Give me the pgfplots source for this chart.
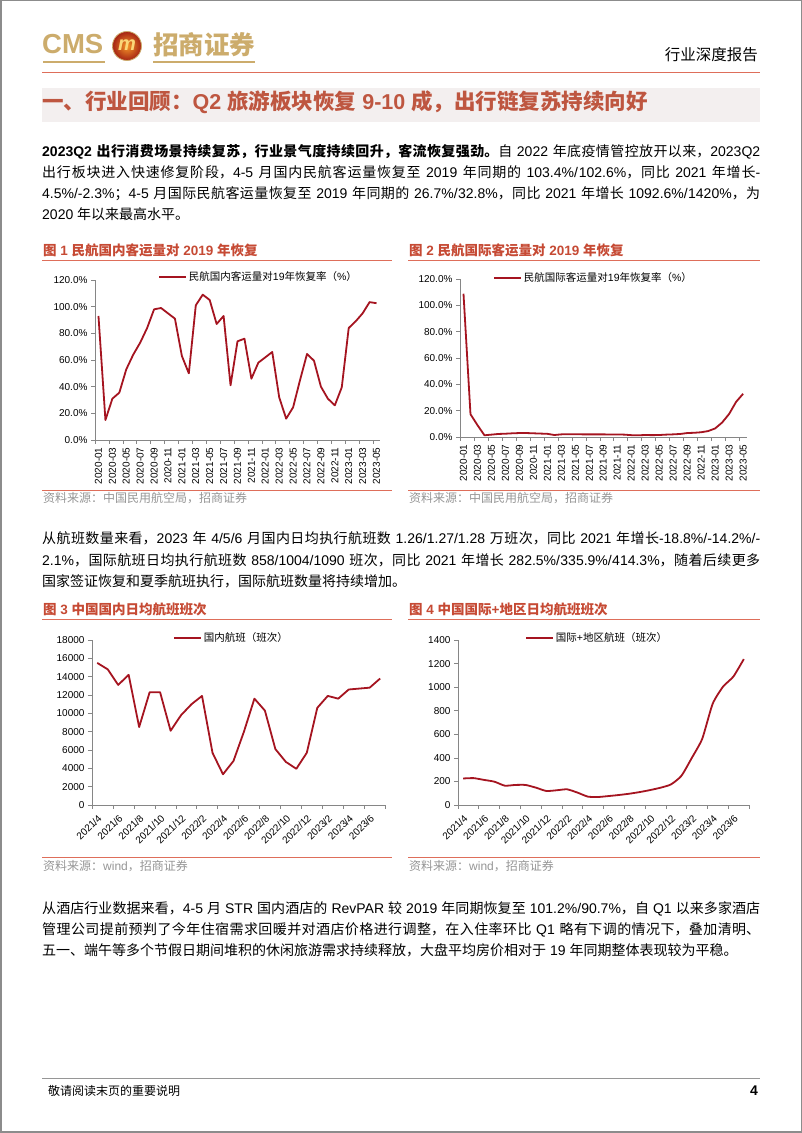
\documentclass[border=0pt]{standalone}
\usepackage{pgfplots}
\pgfplotsset{compat=1.18}
\usepackage{fontspec}
\setmainfont{Liberation Sans}
\newfontfamily\cjkfamily{Noto Sans CJK SC}
\XeTeXinterchartokenstate=1
\newXeTeXintercharclass\CJKcls
\makeatletter
\def\setcjkrange#1#2{\count@=#1\relax\loop\XeTeXcharclass\count@=\CJKcls\relax\ifnum\count@<#2\relax\advance\count@ by 1\relax\repeat}
\makeatother
\setcjkrange{"4E00}{"9FFF}
\setcjkrange{"3000}{"303F}
\setcjkrange{"FF00}{"FFEF}
\XeTeXinterchartoks 0 \CJKcls = {\cjkfamily}
\XeTeXinterchartoks 4095 \CJKcls = {\cjkfamily}
\XeTeXinterchartoks \CJKcls 0 = {\rmfamily}
\XeTeXinterchartoks \CJKcls 4095 = {\rmfamily}
\XeTeXlinebreaklocale "zh"
\XeTeXlinebreakskip=0pt plus 1pt

\definecolor{cmsred}{RGB}{198,74,52}
\definecolor{titlered}{RGB}{190,86,64}
\definecolor{linered}{RGB}{165,20,32}
\definecolor{gold}{RGB}{204,172,108}
\definecolor{axisgray}{RGB}{134,134,134}
\definecolor{bandfill}{RGB}{243,239,239}
\definecolor{rulered}{RGB}{222,110,90}
\definecolor{srcgray}{RGB}{150,150,150}
\definecolor{framegray}{RGB}{140,140,140}

\pgfplotsset{
 cmsaxis/.style={
  scale only axis, anchor=south west,
  axis lines=left, axis line style={-, draw=axisgray, line width=0.7pt},
  tick align=outside, major tick length=4pt, minor tick length=4pt,
  tick style={draw=axisgray, line width=0.6pt},
  major x tick style={draw=none},
  tick label style={font=\fontsize{10}{12}\selectfont, text=black},
  /pgf/number format/assume math mode=true,
  legend image code/.code={\draw[##1] (0pt,0pt) -- (27pt,0pt);},
  legend style={draw=none, fill=none, inner sep=0pt, font=\fontsize{10.5}{12}\selectfont, anchor=west},
  legend cell align=left,
  clip=false,
 },
 cmsline/.style={linered, line width=1.8pt, no marks, line join=round},
}

\begin{document}
\begin{tikzpicture}[x=1pt,y=1pt]
\fill[white] (0,0) rectangle (802,1133);
\useasboundingbox (0,0) rectangle (802,1133);
\begin{scope}[shift={(0,1133)}, y=-1pt]
 % page frame
 \draw[framegray, line width=1.5pt] (0.75,0.75) rectangle (801.25,1132.25);
 % header logo
 \node[anchor=base west, inner sep=0pt, text=gold, font=\fontsize{27.5}{28}\selectfont\bfseries] at (42,54) {CMS};
 \draw[gold, line width=1.2pt] (43,62) -- (105,62);
 \shade[inner color={rgb,255:red,245;green,150;blue,40}, outer color={rgb,255:red,165;green,35;blue,20}] (127,46) circle (14.5);
 \draw[gold, line width=0.8pt] (127,46) circle (14.5);
 \node[text={rgb,255:red,250;green,215;blue,120}, font=\fontsize{20}{20}\selectfont\bfseries\itshape, inner sep=0pt] at (127,45) {m};
 \node[anchor=base west, inner sep=0pt, text=gold, font=\fontsize{25.5}{28}\selectfont\bfseries] at (153,54.5) {招商证券};
 \draw[gold, line width=1.2pt] (153,62) -- (255,62);
 \node[anchor=base east, inner sep=0pt, font=\fontsize{15.5}{18}\selectfont] at (758,60.5) {行业深度报告};
 \draw[rulered, line width=0.9pt] (42,72) -- (760,72);
 % section title
 \fill[bandfill] (42,88) rectangle (760,122);
 \node[anchor=base west, inner sep=0pt, text=titlered, font=\fontsize{21.5}{24}\selectfont\bfseries] at (42,109.5) {一、行业回顾：Q2 旅游板块恢复 9-10 成，出行链复苏持续向好};
 % paragraph 1
 \node[anchor=north west, inner sep=0pt, text width=718pt, align=justify, font=\fontsize{14}{21.1}\selectfont] at (42,141.5) {\strut\textbf{2023Q2 出行消费场景持续复苏，行业景气度持续回升，客流恢复强劲。}自 2022 年底疫情管控放开以来，2023Q2\linebreak%
出行板块进入快速修复阶段，4-5 月国内民航客运量恢复至 2019 年同期的 103.4\%/102.6\%，同比 2021 年增长-\linebreak%
4.5\%/-2.3\%；4-5 月国际民航客运量恢复至 2019 年同期的 26.7\%/32.8\%，同比 2021 年增长 1092.6\%/1420\%，为\linebreak%
2020 年以来最高水平。};
 % captions fig 1/2
 \node[anchor=base west, inner sep=0pt, text=cmsred, font=\fontsize{13.5}{16}\selectfont\bfseries] at (43,255.5) {图 1 民航国内客运量对 2019 年恢复};
 \node[anchor=base west, inner sep=0pt, text=cmsred, font=\fontsize{13.5}{16}\selectfont\bfseries] at (409,255.5) {图 2 民航国际客运量对 2019 年恢复};
 \draw[rulered, line width=0.9pt] (42,260) -- (392,260) (408,260) -- (760,260);
 \draw[rulered, line width=0.9pt] (42,490) -- (392,490) (408,490) -- (760,490);
 \node[anchor=base west, inner sep=0pt, text=srcgray, font=\fontsize{12}{14}\selectfont] at (43,503) {资料来源：中国民用航空局，招商证券};
 \node[anchor=base west, inner sep=0pt, text=srcgray, font=\fontsize{12}{14}\selectfont] at (409,503) {资料来源：中国民用航空局，招商证券};
 % paragraph 2
 \node[anchor=north west, inner sep=0pt, text width=718pt, align=justify, font=\fontsize{14}{21.3}\selectfont] at (42,528.8) {\strut 从航班数量来看，2023 年 4/5/6 月国内日均执行航班数 1.26/1.27/1.28 万班次，同比 2021 年增长-18.8\%/-14.2\%/-\linebreak%
2.1\%，国际航班日均执行航班数 858/1004/1090 班次，同比 2021 年增长 282.5\%/335.9\%/414.3\%，随着后续更多\linebreak%
国家签证恢复和夏季航班执行，国际航班数量将持续增加。};
 % captions fig 3/4
 \node[anchor=base west, inner sep=0pt, text=cmsred, font=\fontsize{13.5}{16}\selectfont\bfseries] at (43,614.5) {图 3 中国国内日均航班班次};
 \node[anchor=base west, inner sep=0pt, text=cmsred, font=\fontsize{13.5}{16}\selectfont\bfseries] at (409,614.5) {图 4 中国国际+地区日均航班班次};
 \draw[rulered, line width=0.9pt] (42,619) -- (392,619) (408,619) -- (760,619);
 \draw[rulered, line width=0.9pt] (42,857) -- (392,857) (408,857) -- (760,857);
 \node[anchor=base west, inner sep=0pt, text=srcgray, font=\fontsize{12}{14}\selectfont] at (43,871) {资料来源：wind，招商证券};
 \node[anchor=base west, inner sep=0pt, text=srcgray, font=\fontsize{12}{14}\selectfont] at (409,871) {资料来源：wind，招商证券};
 % paragraph 3
 \node[anchor=north west, inner sep=0pt, text width=718pt, align=justify, font=\fontsize{14}{21.1}\selectfont] at (42,898.8) {\strut 从酒店行业数据来看，4-5 月 STR 国内酒店的 RevPAR 较 2019 年同期恢复至 101.2\%/90.7\%，自 Q1 以来多家酒店\linebreak%
管理公司提前预判了今年住宿需求回暖并对酒店价格进行调整，在入住率环比 Q1 略有下调的情况下，叠加清明、\linebreak%
五一、端午等多个节假日期间堆积的休闲旅游需求持续释放，大盘平均房价相对于 19 年同期整体表现较为平稳。};
 % footer
 \draw[srcgray, line width=0.9pt] (42,1078) -- (760,1078);
 \node[anchor=base west, inner sep=0pt, font=\fontsize{12}{14}\selectfont] at (48,1096) {敬请阅读末页的重要说明};
 \node[anchor=base east, inner sep=0pt, font=\fontsize{14}{16}\selectfont\bfseries] at (758,1096) {4};
\end{scope}

% Chart 1
\begin{axis}[cmsaxis, at={(95pt,693pt)}, width=285pt, height=160pt,
  xmin=-0.5, xmax=40.5, ymin=0, ymax=120,
  ytick={0,20,...,120},
  yticklabel={\pgfmathprintnumber[fixed,fixed zerofill,precision=1]{\tick}\%},
  xtick={0,2,...,40},
  xticklabels={2020-01,2020-03,2020-05,2020-07,2020-09,2020-11,2021-01,2021-03,2021-05,2021-07,2021-09,2021-11,2022-01,2022-03,2022-05,2022-07,2022-09,2022-11,2023-01,2023-03,2023-05},
  minor xtick={-0.5,1.5,...,40.5},
  x tick label style={rotate=90, anchor=east},
  legend style={at={(0.221,1.019)}}]
\addplot[cmsline] coordinates {
(0,93)(1,15)(2,31)(3,35.5)(4,53)(5,64)(6,73)(7,84)(8,98)(9,99)(10,95)(11,91)
(12,63)(13,50)(14,101)(15,109)(16,105)(17,87)(18,93)(19,41)(20,74)(21,76)(22,46)(23,58)
(24,62)(25,66)(26,32)(27,16)(28,24.5)(29,45)(30,64.5)(31,59.5)(32,40)(33,31)(34,26)(35,39.5)
(36,84)(37,89)(38,95)(39,103.4)(40,102.6)};
\addlegendentry{民航国内客运量对19年恢复率（\%）}
\end{axis}

% Chart 2
\begin{axis}[cmsaxis, at={(460pt,696pt)}, width=286.6pt, height=158pt,
  xmin=-0.5, xmax=40.5, ymin=0, ymax=120,
  ytick={0,20,...,120},
  yticklabel={\pgfmathprintnumber[fixed,fixed zerofill,precision=1]{\tick}\%},
  xtick={0,2,...,40},
  xticklabels={2020-01,2020-03,2020-05,2020-07,2020-09,2020-11,2021-01,2021-03,2021-05,2021-07,2021-09,2021-11,2022-01,2022-03,2022-05,2022-07,2022-09,2022-11,2023-01,2023-03,2023-05},
  minor xtick={-0.5,1.5,...,40.5},
  x tick label style={rotate=90, anchor=east},
  legend style={at={(0.115,1.006)}}]
\addplot[cmsline] coordinates {
(0,108.8)(1,17.3)(2,9)(3,1.3)(4,1.8)(5,2.3)(6,2.5)(7,2.8)(8,3.0)(9,3.0)(10,2.8)(11,2.6)
(12,2.4)(13,1.5)(14,2.0)(15,2.1)(16,2.1)(17,2.0)(18,2.0)(19,2.0)(20,2.0)(21,1.9)(22,1.9)(23,1.8)
(24,1.4)(25,1.3)(26,1.5)(27,1.4)(28,1.5)(29,1.8)(30,2.0)(31,2.3)(32,3.0)(33,3.2)(34,3.6)(35,4.5)
(36,6.5)(37,11)(38,17.5)(39,26.7)(40,32.8)};
\addlegendentry{民航国际客运量对19年恢复率（\%）}
\end{axis}

% Chart 3
\begin{axis}[cmsaxis, at={(92pt,328pt)}, width=293.4pt, height=165pt,
  xmin=-0.5, xmax=27.5, ymin=0, ymax=18000,
  ytick={0,2000,...,18000}, scaled y ticks=false,
  yticklabel={\pgfmathprintnumber[fixed,precision=0,1000 sep={}]{\tick}},
  xtick={0,2,...,26},
  xticklabels={2021/4,2021/6,2021/8,2021/10,2021/12,2022/2,2022/4,2022/6,2022/8,2022/10,2022/12,2023/2,2023/4,2023/6},
  minor xtick={-0.5,1.5,...,27.5},
  x tick label style={rotate=45, anchor=north east},
  legend style={at={(0.276,1.012)}}]
\addplot[cmsline] coordinates {
(0,15500)(1,14800)(2,13100)(3,14200)(4,8500)(5,12300)(6,12300)(7,8100)(8,9800)
(9,11000)(10,11900)(11,5700)(12,3350)(13,4800)(14,8000)(15,11600)(16,10300)(17,6100)(18,4700)(19,3950)(20,5700)
(21,10600)(22,11900)(23,11600)(24,12600)(25,12700)(26,12800)(27,13800)};
\addlegendentry{国内航班（班次）}
\end{axis}

% Chart 4
\begin{axis}[cmsaxis, at={(458pt,328pt)}, width=291pt, height=165pt,
  xmin=-0.5, xmax=27.5, ymin=0, ymax=1400,
  ytick={0,200,...,1400}, scaled y ticks=false,
  yticklabel={\pgfmathprintnumber[fixed,precision=0,1000 sep={}]{\tick}},
  xtick={0,2,...,26},
  xticklabels={2021/4,2021/6,2021/8,2021/10,2021/12,2022/2,2022/4,2022/6,2022/8,2022/10,2022/12,2023/2,2023/4,2023/6},
  minor xtick={-0.5,1.5,...,27.5},
  x tick label style={rotate=45, anchor=north east},
  legend style={at={(0.23,1.012)}}]
\addplot[cmsline, smooth, tension=0.35] coordinates {
(0,225)(1,228)(2,213)(3,198)(4,164)(5,170)(6,170)(7,147)(8,119)
(9,125)(10,133)(11,105)(12,71)(13,68)(14,76)(15,85)(16,96)(17,110)(18,127)(19,147)(20,175)
(21,248)(22,400)(23,562)(24,858)(25,1004)(26,1090)(27,1238)};
\addlegendentry{国际+地区航班（班次）}
\end{axis}
\end{tikzpicture}
\end{document}
